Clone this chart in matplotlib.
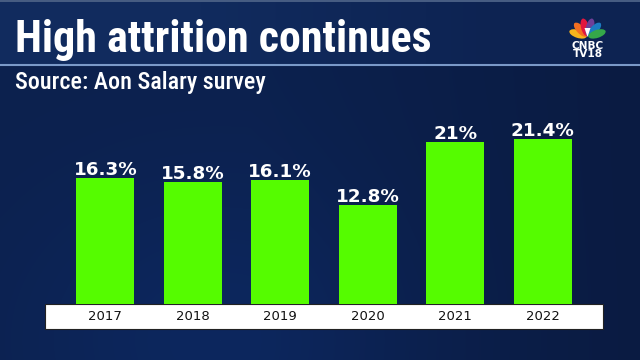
import numpy as np
import matplotlib
matplotlib.use('Agg')
import matplotlib.pyplot as plt
from matplotlib import font_manager
from matplotlib.patches import Rectangle, Ellipse, Polygon

# data
years = ['2017', '2018', '2019', '2020', '2021', '2022']
attrition = [16.3, 15.8, 16.1, 12.8, 21.0, 21.4]

title = 'High attrition continues'
source = 'Source: Aon Salary survey'


def pick_narrow():
    names = {f.name for f in font_manager.fontManager.ttflist}
    for n in ['Roboto Condensed', 'Open Sans Condensed', 'Liberation Sans Narrow',
              'Arial Narrow', 'Fira Sans Condensed', 'PT Sans Narrow']:
        if n in names:
            return n, 'normal'
    fp = font_manager.FontProperties(family='DejaVu Sans', stretch='condensed', weight='bold')
    if 'Condensed' in font_manager.findfont(fp, fallback_to_default=False):
        return 'DejaVu Sans', 'condensed'
    return 'Roboto', 'normal'


narrow, stretch = pick_narrow()

W, H = 640, 360
fig = plt.figure(figsize=(6.4, 3.6), dpi=100)

# background: dark navy, header band slightly bluer on the left
yy, xx = np.mgrid[0:H, 0:W]
base = np.array([12, 33, 78]) / 255.0
img = np.ones((H, W, 3)) * base
shade = np.clip((xx - 250) / 390.0, 0, 1)
img -= shade[..., None] * (np.array([2, 6, 12]) / 255.0)
spot = np.exp(-(((xx - 220) / 200.0) ** 2 + ((yy - 340) / 160.0) ** 2))
img += spot[..., None] * (np.array([1, 6, 16]) / 255.0)
head = yy < 64
left = np.array([17, 43, 94]) / 255.0
right = np.array([13, 35, 82]) / 255.0
t = np.clip((xx - 200) / 300.0, 0, 1)[..., None]
img[head] = (left * (1 - t) + right * t)[head]
img[:2] = np.array([70, 92, 130]) / 255.0
img = np.clip(img, 0, 1)

bg = fig.add_axes([0, 0, 1, 1])
bg.imshow(img, extent=[0, W, H, 0], aspect='auto', interpolation='bilinear')
bg.set_xlim(0, W)
bg.set_ylim(H, 0)
bg.axis('off')

# separator under the title
bg.plot([0, W], [64.5, 64.5], color='#8fb0e0', lw=1.5, alpha=0.85)

t1 = bg.text(15, 52, title, family=narrow, stretch=stretch, fontweight='bold',
             fontsize=30, color='white', va='baseline', ha='left')
t2 = bg.text(15, 89, source, family=narrow, stretch=stretch, fontweight='medium',
             fontsize=17, color='white', va='baseline', ha='left')

# fit the header texts to the width they take in the reference
renderer = fig.canvas.get_renderer()
for txt, target in [(t1, 417), (t2, 251)]:
    w = txt.get_window_extent(renderer).width
    txt.set_fontsize(txt.get_fontsize() * target / w)

# CNBC TV18 logo
cx, cy = 587.5, 37
feather_colors = ['#f7b41c', '#f36f21', '#e3173e', '#6e3f98', '#1c7bc1', '#35a849']
for k, col in enumerate(feather_colors):
    ang = np.deg2rad(162 - k * 28.8)
    ex = cx + 10 * np.cos(ang)
    ey = cy - 10 * np.sin(ang)
    bg.add_patch(Ellipse((ex, ey), 18, 8, angle=-np.rad2deg(ang),
                         color=col, lw=0))
bg.add_patch(Polygon([[cx - 3, cy - 9], [cx + 3, cy - 9], [cx, cy]],
                     closed=True, color='white', lw=0))
bg.text(cx, 50, 'CNBC\nTV18', color='white', fontweight='bold', fontsize=7.6,
        ha='center', va='center', linespacing=0.8, family='DejaVu Sans')

# white band carrying the year labels
bg.add_patch(Rectangle((45, 303.5), 558, 25.5, facecolor='white',
                       edgecolor='#222222', lw=0.8))

# bars
ax = fig.add_axes([45 / W, (H - 303.5) / H, 558 / W, 24 * 7.69 / H])
ax.patch.set_alpha(0)
x = np.arange(len(years))
ax.bar(x, attrition, width=0.66, color='#55fc00')
for xi, v in zip(x, attrition):
    ax.text(xi, v + 0.4, f'{v:g}%', ha='center', va='baseline',
            color='white', fontweight='bold', fontsize=13.2, family='DejaVu Sans')
ax.set_xlim(-0.69, 5.69)
ax.set_ylim(0, 24)
ax.set_xticks(x, years)
ax.tick_params(axis='x', length=0, pad=4.5, labelsize=9.5, labelcolor='#111111')
ax.set_yticks([])
for s in ax.spines.values():
    s.set_visible(False)

fig.savefig('out.png', dpi=100)
